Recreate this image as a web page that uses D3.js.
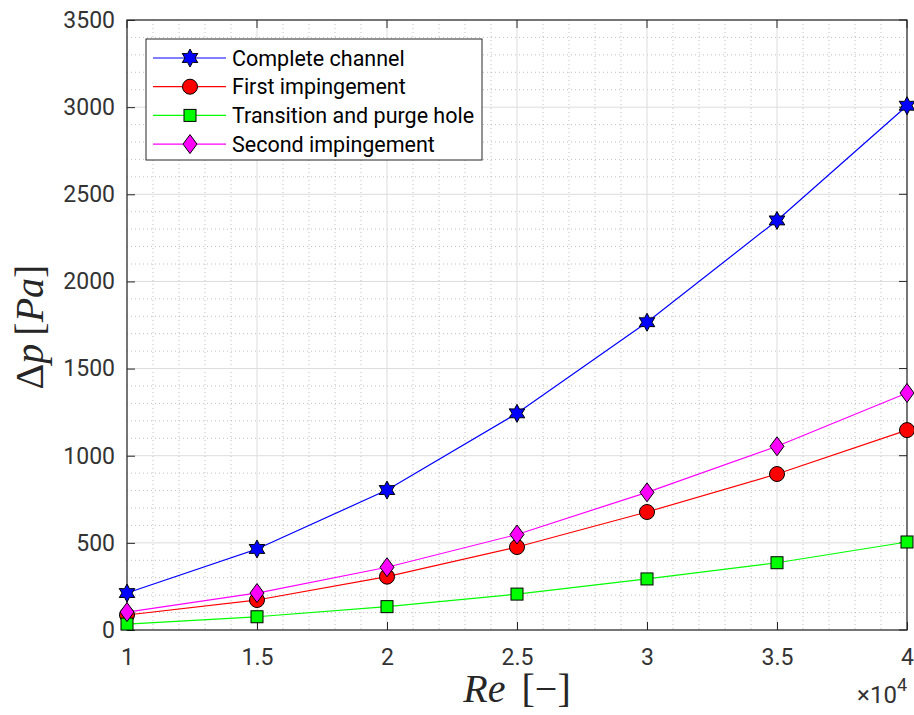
<!DOCTYPE html>
<html>
<head>
<meta charset="utf-8">
<script src="https://cdn.jsdelivr.net/npm/d3@7"></script>
<style>
  body { margin: 0; background: #fff; }
  svg { display: block; }
  .tick text { font-family: Roboto, sans-serif; font-size: 23px; fill: #333; }
</style>
</head>
<body>
<svg id="chart"></svg>
<script>
const reValues = [1, 1.5, 2, 2.5, 3, 3.5, 4];
const seriesNames = ["Complete channel", "First impingement", "Transition and purge hole", "Second impingement"];
const completeChannel = [212, 465, 803, 1243, 1766, 2350, 3008];
const firstImpingement = [86, 172, 306, 476, 677, 895, 1147];
const transitionPurge = [34, 76, 134, 206, 293, 386, 505];
const secondImpingement = [103, 212, 360, 548, 790, 1054, 1360];
const xTicks = [1, 1.5, 2, 2.5, 3, 3.5, 4];
const yTicks = [0, 500, 1000, 1500, 2000, 2500, 3000, 3500];

const width = 914;
const height = 715;
const margin = { top: 20, right: 7, bottom: 85, left: 127 };
const innerWidth = width - margin.left - margin.right;
const innerHeight = height - margin.top - margin.bottom;

const series = [
  { name: seriesNames[0], values: completeChannel, color: "#0000ff", marker: "star" },
  { name: seriesNames[1], values: firstImpingement, color: "#ff0000", marker: "circle" },
  { name: seriesNames[2], values: transitionPurge, color: "#00ff00", marker: "square" },
  { name: seriesNames[3], values: secondImpingement, color: "#ff00ff", marker: "diamond" }
];

const svg = d3.select("#chart").attr("width", width).attr("height", height);

const xScale = d3.scaleLinear().domain([1, 4]).range([0, innerWidth]);
const yScale = d3.scaleLinear().domain([0, 3500]).range([innerHeight, 0]);

const g = svg.append("g").attr("transform", `translate(${margin.left},${margin.top})`);

// minor grid (dotted)
const xMinor = d3.range(1, 4.0001, 0.1).filter((v) => Math.abs(v * 2 - Math.round(v * 2)) > 1e-6);
const yMinor = d3.range(0, 3501, 100).filter((v) => v % 500 !== 0);
g.append("g").selectAll("line").data(xMinor).join("line")
  .attr("x1", (d) => xScale(d)).attr("x2", (d) => xScale(d))
  .attr("y1", 0).attr("y2", innerHeight)
  .attr("stroke", "#b0b0b0").attr("stroke-width", 0.8).attr("stroke-dasharray", "1,3");
g.append("g").selectAll("line").data(yMinor).join("line")
  .attr("y1", (d) => yScale(d)).attr("y2", (d) => yScale(d))
  .attr("x1", 0).attr("x2", innerWidth)
  .attr("stroke", "#b0b0b0").attr("stroke-width", 0.8).attr("stroke-dasharray", "1,3");

// major grid
g.append("g").selectAll("line").data(xTicks).join("line")
  .attr("x1", (d) => xScale(d)).attr("x2", (d) => xScale(d))
  .attr("y1", 0).attr("y2", innerHeight)
  .attr("stroke", "#dcdcdc").attr("stroke-width", 1);
g.append("g").selectAll("line").data(yTicks).join("line")
  .attr("y1", (d) => yScale(d)).attr("y2", (d) => yScale(d))
  .attr("x1", 0).attr("x2", innerWidth)
  .attr("stroke", "#dcdcdc").attr("stroke-width", 1);

// axes with inward ticks
const xAxisG = g.append("g").attr("transform", `translate(0,${innerHeight})`)
  .call(d3.axisBottom(xScale).tickValues(xTicks).tickFormat(d3.format("")).tickSizeInner(-8).tickSizeOuter(0).tickPadding(19));
const yAxisG = g.append("g")
  .call(d3.axisLeft(yScale).tickValues(yTicks).tickFormat(d3.format("d")).tickSizeInner(-8).tickSizeOuter(0).tickPadding(12));

[xAxisG, yAxisG].forEach((a) => {
  a.attr("font-size", null).attr("font-family", null);
  a.select(".domain").remove();
  a.selectAll(".tick line").attr("stroke", "#262626").attr("stroke-width", 1);
});

// top and right ticks (no labels)
g.append("g").selectAll("line").data(xTicks).join("line")
  .attr("x1", (d) => xScale(d)).attr("x2", (d) => xScale(d))
  .attr("y1", 0).attr("y2", 8).attr("stroke", "#262626");
g.append("g").selectAll("line").data(yTicks).join("line")
  .attr("y1", (d) => yScale(d)).attr("y2", (d) => yScale(d))
  .attr("x1", innerWidth - 8).attr("x2", innerWidth).attr("stroke", "#262626");

g.append("rect").attr("width", innerWidth).attr("height", innerHeight)
  .attr("fill", "none").attr("stroke", "#262626").attr("stroke-width", 1.2);

// markers
const starPath = (() => {
  const pts = [];
  for (let i = 0; i < 12; i++) {
    const r = i % 2 === 0 ? 9 : 5;
    const a = (Math.PI / 6) * i - Math.PI / 2;
    pts.push([r * Math.cos(a), r * Math.sin(a)]);
  }
  return "M" + pts.map((p) => p.join(",")).join("L") + "Z";
})();

const drawMarker = (sel, type, color) => {
  if (type === "star") {
    sel.append("path").attr("d", starPath).attr("fill", color).attr("stroke", "#000").attr("stroke-width", 1);
  } else if (type === "circle") {
    sel.append("circle").attr("r", 7.5).attr("fill", color).attr("stroke", "#000").attr("stroke-width", 1);
  } else if (type === "square") {
    sel.append("rect").attr("x", -6).attr("y", -6).attr("width", 12).attr("height", 12)
      .attr("fill", color).attr("stroke", "#000").attr("stroke-width", 1);
  } else {
    sel.append("path").attr("d", "M0,-9.5L7,0L0,9.5L-7,0Z").attr("fill", color).attr("stroke", "#000").attr("stroke-width", 1);
  }
};

const line = d3.line().x((d, i) => xScale(reValues[i])).y((d) => yScale(d));

series.forEach((s) => {
  g.append("path").datum(s.values).attr("d", line)
    .attr("fill", "none").attr("stroke", s.color).attr("stroke-width", 1.2);
});
series.forEach((s) => {
  g.append("g").selectAll("g").data(s.values).join("g")
    .attr("transform", (d, i) => `translate(${xScale(reValues[i])},${yScale(d)})`)
    .each(function () { drawMarker(d3.select(this), s.marker, s.color); });
});

// legend
const legend = svg.append("g").attr("transform", "translate(146,39)");
legend.append("rect").attr("width", 336).attr("height", 121)
  .attr("fill", "#fff").attr("stroke", "#262626").attr("stroke-width", 1);
series.forEach((s, i) => {
  const row = legend.append("g").attr("transform", `translate(0,${19 + i * 28.7})`);
  row.append("line").attr("x1", 7).attr("x2", 80).attr("y1", 0).attr("y2", 0)
    .attr("stroke", s.color).attr("stroke-width", 1.2);
  const m = row.append("g").attr("transform", "translate(44,0)");
  drawMarker(m, s.marker, s.color);
  row.append("text").attr("x", 86).attr("y", 7.5)
    .attr("font-family", "Roboto, sans-serif").attr("font-size", 21.5).attr("fill", "#000")
    .text(s.name);
});

// axis labels
svg.append("text").attr("x", margin.left + innerWidth / 2).attr("y", 702)
  .attr("text-anchor", "middle").attr("font-family", "'Liberation Serif', serif").attr("font-size", 40).attr("fill", "#262626")
  .html('<tspan font-style="italic">Re</tspan>\u2009\u2009[\u2212]');
svg.append("text").attr("transform", `translate(43,${margin.top + innerHeight / 2 + 2}) rotate(-90)`)
  .attr("text-anchor", "middle").attr("font-family", "'Liberation Serif', serif").attr("font-size", 40).attr("fill", "#262626")
  .html('\u0394<tspan font-style="italic">p</tspan>\u2009[<tspan font-style="italic">Pa</tspan>]');

svg.append("text").attr("x", 907).attr("y", 703).attr("text-anchor", "end")
  .attr("font-family", "Roboto, sans-serif").attr("font-size", 24).attr("fill", "#333")
  .html('\u00d710<tspan dy="-12" font-size="18">4</tspan>');
</script>
</body>
</html>
